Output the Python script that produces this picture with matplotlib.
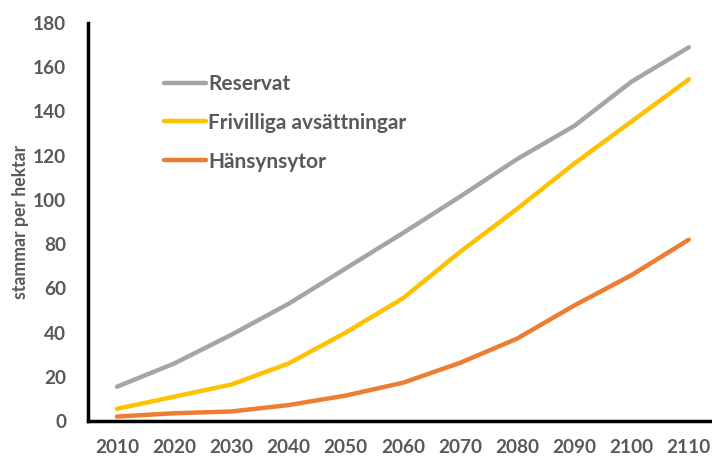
import matplotlib
matplotlib.use("Agg")
import matplotlib.pyplot as plt
import numpy as np

years = ["2010", "2020", "2030", "2040", "2050", "2060",
         "2070", "2080", "2090", "2100", "2110"]
reservat = [15.5, 26, 39, 53, 69, 85, 101.5, 118.5, 133.5, 153.5, 169]
frivilliga = [5.5, 11, 16.5, 26, 40, 55.5, 76.5, 96, 116.5, 135.5, 154.5]
hansyn = [2, 3.5, 4.3, 7.2, 11.5, 17.3, 26.3, 37.3, 52.3, 66, 82]

series = [
    ("Reservat", reservat, "#A5A5A5"),
    ("Frivilliga avsättningar", frivilliga, "#FFC000"),
    ("Hänsynsytor", hansyn, "#ED7D31"),
]

plt.rcParams["font.family"] = ["Lato", "DejaVu Sans"]
text_color = "#595959"

fig = plt.figure(figsize=(7.12, 4.59), dpi=100)
ax = fig.add_axes([88.4 / 712, 38 / 459, 629 / 712, 398 / 459])

x = np.arange(len(years))
for name, vals, col in series:
    ax.plot(x, vals, color=col, lw=3.2, label=name, solid_capstyle="round")

ax.set_xlim(-0.5, len(years) - 0.5)
ax.set_ylim(0, 180)
ax.set_yticks(range(0, 181, 20))
ax.set_xticks(x)
ax.set_xticklabels(years)
ax.tick_params(length=0, labelsize=13.7, colors=text_color, pad=13)
ax.tick_params(axis="y", pad=16)
for lab in ax.get_xticklabels() + ax.get_yticklabels():
    lab.set_fontweight("bold")

for side in ["top", "right"]:
    ax.spines[side].set_visible(False)
ax.spines["left"].set_linewidth(2.5)
ax.spines["bottom"].set_linewidth(2.5)

ax.set_ylabel("stammar per hektar", fontsize=12.7, fontweight="bold",
              color=text_color, labelpad=3)

leg = ax.legend(loc="upper left", bbox_to_anchor=(164 / 712, 1 - 74 / 459),
                bbox_transform=fig.transFigure, frameon=False,
                handlelength=2.0, handletextpad=0.12, labelspacing=0.9,
                borderpad=0, borderaxespad=0,
                prop={"size": 15, "weight": "bold"})
for t in leg.get_texts():
    t.set_color(text_color)

fig.savefig("out.png", dpi=100)
